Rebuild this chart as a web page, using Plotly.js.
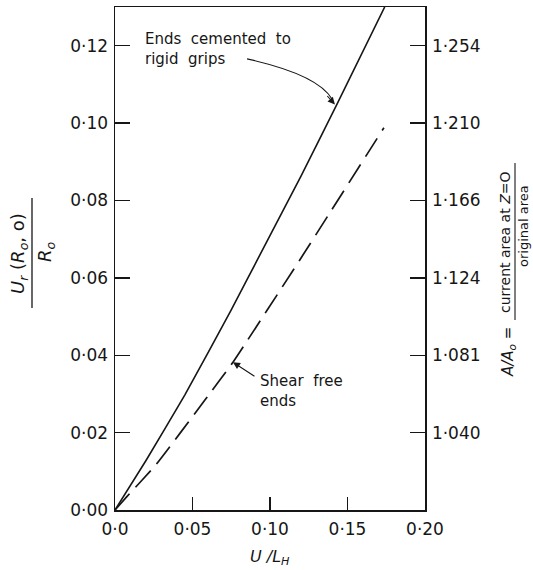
<!DOCTYPE html>
<html>
<head>
<meta charset="utf-8">
<script src="https://cdn.plot.ly/plotly-3.0.1.min.js"></script>
<style>html,body{margin:0;padding:0;background:#fff;}#chart{width:533px;height:570px;}</style>
</head>
<body>
<div id="chart"></div>
<script>
// Data
var cementedX = [0, 0.020, 0.045, 0.075, 0.095, 0.120, 0.143, 0.174];
var cementedY = [0, 0.0128, 0.0297, 0.0517, 0.0671, 0.0863, 0.1047, 0.1300];
var shearFreeX = [0, 0.0075, 0.026, 0.058, 0.0761, 0.119, 0.1735];
var shearFreeY = [0, 0.0034, 0.0115, 0.0284, 0.0382, 0.0645, 0.0988];

var xTickVals = [0, 0.05, 0.10, 0.15, 0.20];
var xTickText = ['0·0', '0·05', '0·10', '0·15', '0·20'];
var yTickVals = [0, 0.02, 0.04, 0.06, 0.08, 0.10, 0.12];
var yTickText = ['0·00', '0·02', '0·04', '0·06', '0·08', '0·10', '0·12'];
var y2TickVals = [0.02, 0.04, 0.06, 0.08, 0.10, 0.12];
var y2TickText = ['1·040', '1·081', '1·124', '1·166', '1·210', '1·254'];

var INK = '#161616';
var FONT = 'DejaVu Sans, sans-serif';

// pixel -> paper helpers (plot area: x 115..425, y 7..510)
var L = 115, R = 425, T = 7, B = 510;
function px(x) { return (x - L) / (R - L); }
function py(y) { return (B - y) / (B - T); }

var traces = [
  {x: cementedX, y: cementedY, mode: 'lines', line: {color: INK, width: 1.6, shape: 'spline', smoothing: 0.4}, hoverinfo: 'skip', showlegend: false},
  {x: shearFreeX, y: shearFreeY, mode: 'lines', line: {color: INK, width: 1.7, dash: '22px,9px', shape: 'spline', smoothing: 0.4}, hoverinfo: 'skip', showlegend: false},
  {x: [0], y: [0], yaxis: 'y2', mode: 'none', hoverinfo: 'skip', showlegend: false}
];

var axisCommon = {
  showgrid: false, zeroline: false, showline: true, linecolor: INK, linewidth: 1.5,
  ticks: 'inside', ticklen: 15, tickwidth: 1.3, tickcolor: INK,
  tickfont: {family: FONT, size: 17, color: INK}, fixedrange: true
};

var layout = {
  width: 533, height: 570,
  margin: {l: 115, r: 108, t: 7, b: 60},
  paper_bgcolor: '#fff', plot_bgcolor: '#fff',
  xaxis: Object.assign({}, axisCommon, {
    range: [0, 0.20], tickmode: 'array', tickvals: xTickVals, ticktext: xTickText,
    mirror: true, ticklen: 13, ticklabelstandoff: 3
  }),
  yaxis: Object.assign({}, axisCommon, {
    range: [0, 0.13], tickmode: 'array', tickvals: yTickVals, ticktext: yTickText,
    ticklabelstandoff: 2
  }),
  yaxis2: Object.assign({}, axisCommon, {
    range: [0, 0.13], overlaying: 'y', side: 'right', tickmode: 'array',
    tickvals: y2TickVals, ticktext: y2TickText, ticklabelstandoff: 2
  }),
  shapes: [
    // fraction bars of the axis titles
    {type: 'line', xref: 'paper', yref: 'paper', x0: px(32), x1: px(32), y0: py(198), y1: py(308), line: {color: INK, width: 1.3}},
    {type: 'line', xref: 'paper', yref: 'paper', x0: px(515), x1: px(515), y0: py(163), y1: py(320), line: {color: INK, width: 1.1}},
    // curved leader from "rigid grips"
    {type: 'path', xref: 'x', yref: 'y', path: 'M 0.0852,0.1166 Q 0.1310,0.1125 0.1400,0.1062', line: {color: INK, width: 1.1}}
  ],
  annotations: [
    {xref: 'paper', yref: 'paper', x: px(19), y: py(254), text: '<i>U<sub>r</sub></i> (<i>R<sub>o</sub></i>, o)', textangle: -90, showarrow: false, xanchor: 'center', yanchor: 'middle', font: {family: FONT, size: 18, color: INK}},
    {xref: 'paper', yref: 'paper', x: px(46), y: py(252), text: '<i>R<sub>o</sub></i>', textangle: -90, showarrow: false, xanchor: 'center', yanchor: 'middle', font: {family: FONT, size: 18, color: INK}},
    {xref: 'paper', yref: 'paper', x: px(508), y: py(352), text: '<i>A/A<sub>o</sub></i> =', textangle: -90, showarrow: false, xanchor: 'center', yanchor: 'middle', font: {family: FONT, size: 15, color: INK}},
    {xref: 'paper', yref: 'paper', x: px(505), y: py(242), text: 'current area at <i>Z</i>=O', textangle: -90, showarrow: false, xanchor: 'center', yanchor: 'middle', font: {family: FONT, size: 14, color: INK}},
    {xref: 'paper', yref: 'paper', x: px(523), y: py(226), text: 'original area', textangle: -90, showarrow: false, xanchor: 'center', yanchor: 'middle', font: {family: FONT, size: 13, color: INK}},
    {xref: 'paper', yref: 'paper', x: px(270), y: py(557), text: '<i>U /L<sub>H</sub></i>', showarrow: false, xanchor: 'center', yanchor: 'middle', font: {family: FONT, size: 16, color: INK}},
    {xref: 'paper', yref: 'paper', x: px(143), y: py(49), text: 'Ends  cemented  to<br>rigid  grips', align: 'left', showarrow: false, xanchor: 'left', yanchor: 'middle', font: {family: FONT, size: 15, color: INK}},
    {xref: 'x', yref: 'y', x: 0.1419, y: 0.1048, text: '', showarrow: true, arrowhead: 2, arrowsize: 1.3, arrowwidth: 1.1, arrowcolor: INK, ax: -9, ay: -10},
    {xref: 'paper', yref: 'paper', x: px(258), y: py(391), text: 'Shear  free<br>ends', align: 'left', showarrow: false, xanchor: 'left', yanchor: 'middle', font: {family: FONT, size: 15, color: INK}},
    {xref: 'x', yref: 'y', x: 0.0761, y: 0.0382, text: '', showarrow: true, arrowhead: 2, arrowsize: 1.3, arrowwidth: 1.1, arrowcolor: INK, ax: 23, ay: 15}
  ]
};

Plotly.newPlot('chart', traces, layout, {staticPlot: true, displayModeBar: false});
</script>
</body>
</html>
